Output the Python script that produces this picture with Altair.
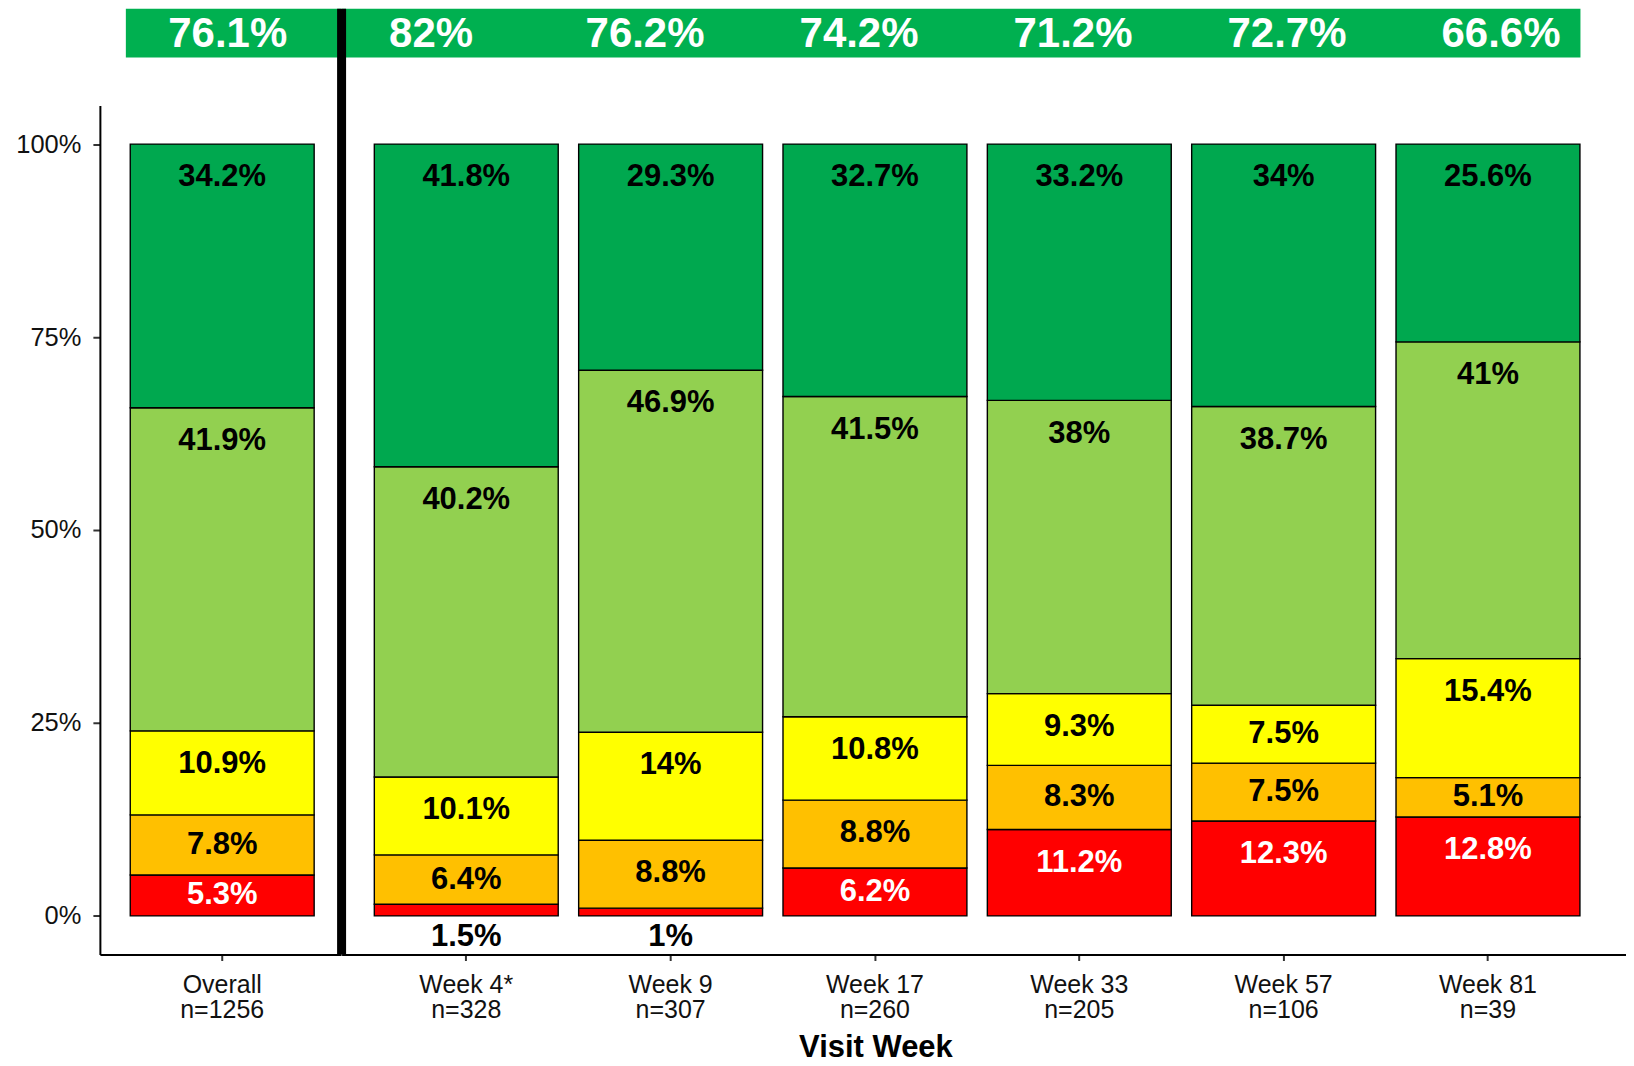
import altair as alt
import pandas as pd

# ---------------- data ----------------
categories = ["Overall", "Week 4*", "Week 9", "Week 17", "Week 33", "Week 57", "Week 81"]
sample_sizes = [1256, 328, 307, 260, 205, 106, 39]
red_pct = [5.3, 1.5, 1, 6.2, 11.2, 12.3, 12.8]
orange_pct = [7.8, 6.4, 8.8, 8.8, 8.3, 7.5, 5.1]
yellow_pct = [10.9, 10.1, 14, 10.8, 9.3, 7.5, 15.4]
light_green_pct = [41.9, 40.2, 46.9, 41.5, 38, 38.7, 41]
dark_green_pct = [34.2, 41.8, 29.3, 32.7, 33.2, 34, 25.6]
top_two_pct = [76.1, 82, 76.2, 74.2, 71.2, 72.7, 66.6]

segment_names = ["Red", "Orange", "Yellow", "Light green", "Dark green"]
segment_colors = ["#FF0000", "#FFC000", "#FFFF00", "#92D050", "#00A84F"]
banner_color = "#00B050"
FONT = "Liberation Sans"


def fmt(v):
    return f"{v:g}%"


xlabels = [f"{c}|n={n}" for c, n in zip(categories, sample_sizes)]
series = [red_pct, orange_pct, yellow_pct, light_green_pct, dark_green_pct]
rows = []
for i, xl in enumerate(xlabels):
    for k, (name, vals) in enumerate(zip(segment_names, series)):
        rows.append({"xlab": xl, "seg": name, "order": k, "pct": vals[i], "txt": fmt(vals[i])})
seg_df = pd.DataFrame(rows)
banner_df = pd.DataFrame({"xlab": xlabels, "txt": [fmt(v) for v in top_two_pct]})
one_row = pd.DataFrame({"k": [0]})

left_order = xlabels[:1]
right_order = xlabels[1:]

yscale = alt.Scale(domain=[-0.05, 1.05], nice=False, zero=False)

x_axis_common = dict(
    labelExpr="split(datum.value, '|')",
    labelFont=FONT, labelFontSize=25, labelColor="#111111", labelLineHeight=25,
    labelPadding=12, labelAngle=0, tickSize=6, tickWidth=2, tickColor="#333333",
    domainColor="black", domainWidth=2, labelOverlap=False, labelFlush=False,
    labelBound=False, grid=False,
)

y_axis_left = alt.Axis(
    values=[0, 0.25, 0.5, 0.75, 1], format=".0%", title=None,
    labelFont=FONT, labelFontSize=25.5, labelColor="#111111",
    tickSize=7, tickWidth=2, tickColor="#333333", labelPadding=12,
    domainColor="black", domainWidth=2, grid=False,
)


def x_enc(order, po, al, axis):
    return alt.X(
        "xlab:N", sort=order,
        scale=alt.Scale(domain=order, paddingInner=0.1, paddingOuter=po, align=al),
        axis=axis,
    )


def make_main(order, width, po, al, xaxis, yaxis, separator=False):
    df = seg_df[seg_df["xlab"].isin(order)]
    base = alt.Chart(df).transform_stack(
        stack="pct", groupby=["xlab"],
        sort=[alt.SortField("order", order="ascending")],
        as_=["lo", "hi"], offset="normalize",
    ).transform_calculate(
        ly="datum.pct < 3 ? -0.028 : max(datum.hi - 0.043, (datum.lo + datum.hi) / 2)",
        tc="datum.seg == 'Red' && datum.pct >= 3 ? 'white' : 'black'",
    )
    bars = base.mark_bar(stroke="black", strokeWidth=1.4).encode(
        x=x_enc(order, po, al, xaxis),
        y=alt.Y("lo:Q", scale=yscale, axis=yaxis),
        y2="hi:Q",
        color=alt.Color("seg:N", scale=alt.Scale(domain=segment_names, range=segment_colors), legend=None),
    )
    texts = base.mark_text(font=FONT, fontWeight="bold", fontSize=31, baseline="middle").encode(
        x=x_enc(order, po, al, xaxis),
        y=alt.Y("ly:Q", scale=yscale, axis=yaxis),
        text="txt:N",
        color=alt.Color("tc:N", scale=None),
    )
    layers = [bars, texts]
    if separator:
        # thick black divider between "Overall" and the weekly bars
        divider = alt.Chart(one_row).mark_rect(color="black").encode(
            x=alt.value(-4.5), x2=alt.value(4.5), y=alt.value(-97), y2=alt.value(850)
        )
        layers.append(divider)
    return alt.layer(*layers).properties(width=width, height=850)


def make_band(order, width, po, al, rx, rx2):
    df = banner_df[banner_df["xlab"].isin(order)]
    rect = alt.Chart(one_row).mark_rect(color=banner_color).encode(
        x=alt.value(rx), x2=alt.value(rx2), y=alt.value(0), y2=alt.value(49)
    )
    txt = alt.Chart(df).mark_text(
        font=FONT, fontWeight="bold", fontSize=42, color="white", baseline="middle"
    ).encode(
        x=x_enc(order, po, al, None),
        y=alt.value(25),
        text="txt:N",
    )
    return alt.layer(rect, txt).properties(width=width, height=49)


L_W, L_PO, L_AL = 241.5, 0.1402, 0.53
R_W, R_PO, R_AL = 1285.5, 0.1916, 0.418

x_axis_left = alt.Axis(title=None, **x_axis_common)
x_axis_right = alt.Axis(
    title="Visit Week", titleFont=FONT, titleFontSize=31, titleFontWeight="bold",
    titleColor="black", titleX=534.5, titleY=102, titleBaseline="alphabetic",
    titleAlign="center", titleAngle=0, **x_axis_common
)

band_left = make_band(left_order, L_W, L_PO, L_AL, 26, L_W)
band_right = make_band(right_order, R_W, R_PO, R_AL, 0, 1240.4)
main_left = make_main(left_order, L_W, L_PO, L_AL, x_axis_left, y_axis_left)
main_right = make_main(right_order, R_W, R_PO, R_AL, x_axis_right, None, separator=True)

chart = alt.concat(
    band_left, band_right, main_left, main_right,
    columns=2, spacing={"row": 48, "column": 0}, bounds="flush",
).resolve_scale(
    x="independent", y="independent", color="independent"
).properties(
    padding={"left": 7, "top": 0, "right": 0, "bottom": 0}
).configure(font=FONT).configure_view(stroke=None)

chart.save("out.html", embed_options={"renderer": "svg", "actions": False})
